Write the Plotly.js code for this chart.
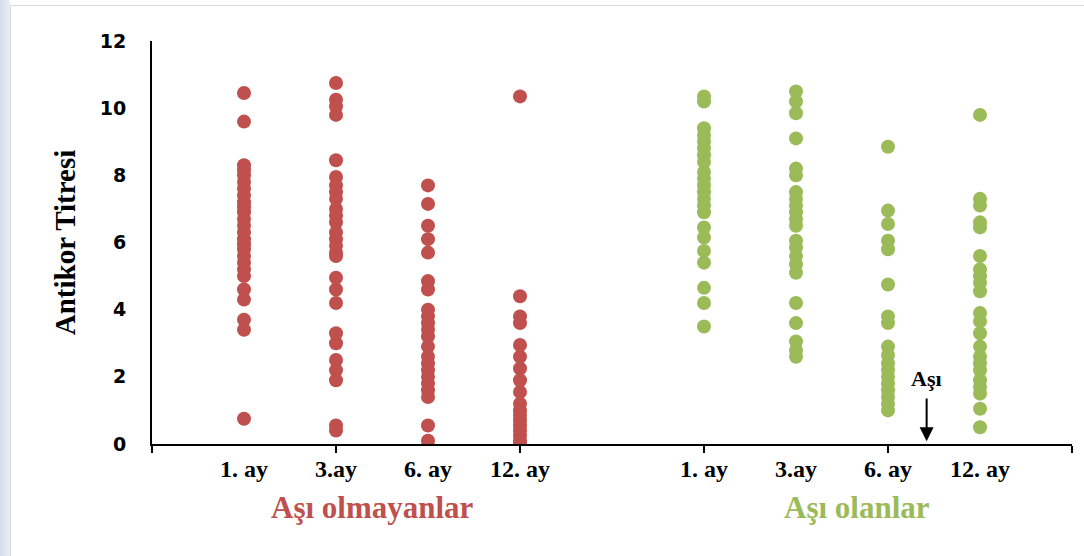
<!DOCTYPE html>
<html>
<head>
<meta charset="utf-8">
<script src="https://cdn.plot.ly/plotly-3.0.1.min.js"></script>
<style>
  html, body { margin: 0; padding: 0; width: 1084px; height: 556px; overflow: hidden;
    background: linear-gradient(to right, #d3deeb 0px, #e9eef5 10px, #ffffff 10px); }
  #frame { position: absolute; left: 10px; top: 5px; width: 1074px; height: 551px;
    background: #ffffff; border-top: 1px solid #d9d9d9; border-left: 1px solid #d9d9d9; box-sizing: border-box; }
  #chart { position: absolute; left: 0; top: 0; width: 1084px; height: 556px; }
</style>
</head>
<body>
<div id="frame"></div>
<div id="chart"></div>
<script>
// Category positions on the numeric x axis (0..10)
const monthLabels = ["1. ay", "3.ay", "6. ay", "12. ay"];
const xNonVaccinated = [1, 2, 3, 4];
const xVaccinated = [6, 7, 8, 9];
const groupLabels = ["Aşı olmayanlar", "Aşı olanlar"];
const groupLabelX = [2.4, 7.66];

// Aşı olmayanlar (red)
const red1 = [10.45, 9.6, 8.3, 8.15, 8.0, 7.8, 7.6, 7.4, 7.2, 7.05, 6.9, 6.7, 6.5, 6.3, 6.1, 5.95, 5.8, 5.6, 5.4, 5.2, 5.0, 4.6, 4.3, 3.7, 3.4, 0.75];
const red3 = [10.75, 10.25, 10.05, 9.8, 8.45, 7.95, 7.7, 7.5, 7.3, 7.0, 6.8, 6.6, 6.3, 6.1, 5.9, 5.7, 5.6, 4.95, 4.6, 4.2, 3.3, 3.0, 2.5, 2.2, 1.9, 0.55, 0.4];
const red6 = [7.7, 7.15, 6.5, 6.1, 5.7, 4.85, 4.6, 4.0, 3.8, 3.6, 3.4, 3.2, 2.9, 2.6, 2.4, 2.2, 2.0, 1.8, 1.6, 1.4, 0.55, 0.1];
const red12 = [10.35, 4.4, 3.8, 3.6, 2.95, 2.6, 2.25, 1.9, 1.55, 1.2, 1.0, 0.85, 0.7, 0.55, 0.4, 0.25, 0.1, 0.0];

// Aşı olanlar (green)
const green1 = [10.35, 10.2, 9.4, 9.2, 9.0, 8.8, 8.6, 8.4, 8.1, 7.9, 7.7, 7.5, 7.3, 7.1, 6.9, 6.45, 6.15, 5.75, 5.4, 4.65, 4.2, 3.5];
const green3 = [10.5, 10.2, 9.85, 9.1, 8.2, 8.0, 7.5, 7.3, 7.1, 6.9, 6.7, 6.5, 6.05, 5.85, 5.6, 5.35, 5.1, 4.2, 3.6, 3.05, 2.8, 2.6];
const green6 = [8.85, 6.95, 6.55, 6.05, 5.8, 4.75, 3.8, 3.6, 2.9, 2.65, 2.4, 2.2, 2.0, 1.8, 1.6, 1.4, 1.2, 1.0];
const green12 = [9.8, 7.3, 7.1, 6.6, 6.45, 5.6, 5.2, 5.0, 4.8, 4.55, 3.9, 3.65, 3.3, 2.9, 2.6, 2.4, 2.2, 1.9, 1.7, 1.5, 1.05, 0.5];

const yTicks = [0, 2, 4, 6, 8, 10, 12];
const xTicks = [0, 2, 4, 6, 8, 10];
const arrowX = 8.42;
const arrowLabel = "Aşı";

const RED = "#C0504D";
const GREEN = "#9BBB59";

const redSeries = [red1, red3, red6, red12];
const greenSeries = [green1, green3, green6, green12];

const traces = [];
function addSeries(xs, series, color) {
  series.forEach((vals, i) => {
    traces.push({
      type: "scatter", mode: "markers",
      x: vals.map(() => xs[i]), y: vals,
      marker: { color: color, size: 14, line: { width: 0 } },
      showlegend: false, hoverinfo: "y"
    });
  });
}
addSeries(xNonVaccinated, redSeries, RED);
addSeries(xVaccinated, greenSeries, GREEN);

const serif = "Liberation Serif, Times New Roman, serif";
const annotations = [];
[xNonVaccinated, xVaccinated].forEach(xs => {
  xs.forEach((x, i) => {
    annotations.push({
      x: x, xref: "x", y: -0.062, yref: "paper", text: "<b>" + monthLabels[i] + "</b>",
      showarrow: false, font: { family: serif, size: 24, color: "#000000" }, yanchor: "middle"
    });
  });
});
annotations.push({
  x: groupLabelX[0], xref: "x", y: -0.158, yref: "paper",
  text: "<b>" + groupLabels[0] + "</b>", showarrow: false, yanchor: "middle",
  font: { family: serif, size: 31, color: RED }
});
annotations.push({
  x: groupLabelX[1], xref: "x", y: -0.158, yref: "paper",
  text: "<b>" + groupLabels[1] + "</b>", showarrow: false, yanchor: "middle",
  font: { family: serif, size: 31, color: GREEN }
});
annotations.push({
  x: arrowX, xref: "x", y: 0.08, yref: "y",
  ax: arrowX, axref: "x", ay: 1.4, ayref: "y",
  text: "", showarrow: true, arrowhead: 2, arrowsize: 1.4, arrowwidth: 2, arrowcolor: "#000000"
});
annotations.push({
  x: arrowX, xref: "x", y: 1.95, yref: "y", text: "<b>" + arrowLabel + "</b>",
  showarrow: false, font: { family: serif, size: 22, color: "#000000" }
});

const layout = {
  width: 1084, height: 556,
  margin: { l: 152, r: 12, t: 41, b: 112 },
  paper_bgcolor: "rgba(0,0,0,0)", plot_bgcolor: "rgba(0,0,0,0)",
  xaxis: {
    range: [0, 10], tickvals: xTicks, showticklabels: false,
    showline: true, linecolor: "#000000", linewidth: 2,
    ticks: "outside", ticklen: 7, tickwidth: 2, tickcolor: "#000000",
    showgrid: false, zeroline: false, fixedrange: true
  },
  yaxis: {
    range: [0, 12], tickvals: yTicks, ticktext: yTicks.map(v => "<b>" + v + "</b>"),
    showline: true, linecolor: "#000000", linewidth: 2,
    ticks: "", showgrid: false, zeroline: false, ticklabelstandoff: 20,
    tickfont: { family: "DejaVu Sans, sans-serif", size: 19, color: "#000000" },
    title: { text: "<b>Antikor Titresi</b>", standoff: 16,
      font: { family: serif, size: 29, color: "#000000" } },
    fixedrange: true
  },
  annotations: annotations,
  showlegend: false
};

Plotly.newPlot("chart", traces, layout, { displayModeBar: false, staticPlot: true });
</script>
</body>
</html>
